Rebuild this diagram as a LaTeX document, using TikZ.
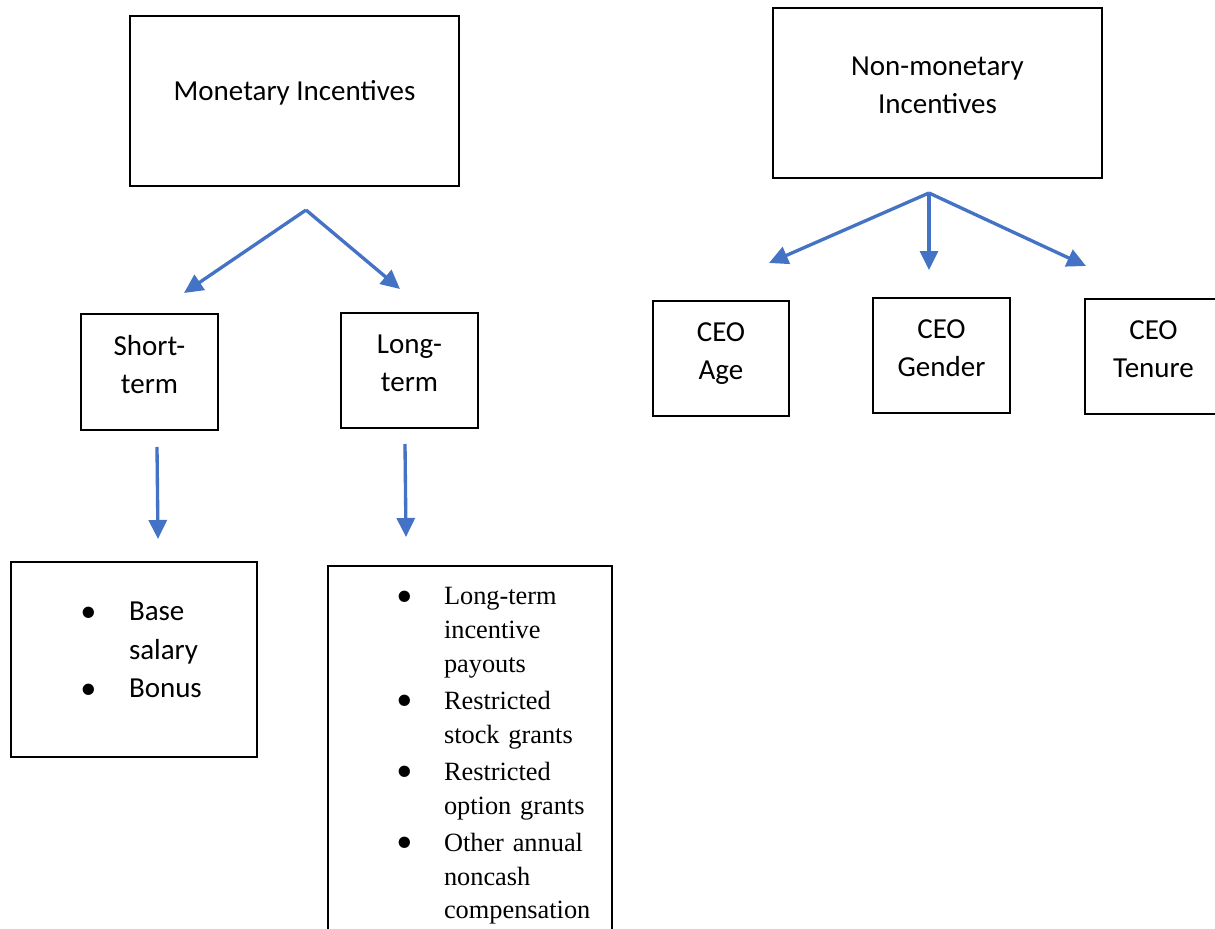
\documentclass[tikz,border=0pt]{standalone}
\usepackage{fontspec}
\setmainfont{Carlito}
\newfontfamily\timesfont{Liberation Serif}
\usetikzlibrary{arrows.meta}
\definecolor{arrowblue}{RGB}{68,114,196}
\newcommand{\bul}{\raisebox{-4.2pt}{\timesfont\fontsize{27pt}{0pt}\selectfont •}}

\begin{document}
\begin{tikzpicture}
        [
            x = 0.02cm, y = -0.02cm,
            box/.style = {draw, line width = 1.2pt, inner sep = 0pt, align = center,
                    font = {\fontsize{16.5pt}{21.5pt}\selectfont}, text depth = 0.3cm},
            listbox/.style = {draw, line width = 1.2pt, inner xsep = 0pt, align = left},
            link/.style = {draw = arrowblue, line width = 1.9pt,
                    -{Triangle[length = 0.38cm, width = 0.36cm]}},
        ]

        \useasboundingbox (0,0) rectangle (1215,929);

        % top boxes
        \node[box, minimum width = 6.58cm, minimum height = 3.4cm, text depth = 0.42cm] (monetary) at (294.5,101) {Monetary Incentives};
        \node[box, minimum width = 6.58cm, minimum height = 3.4cm] (nonmonetary) at (937.5,93) {Non-monetary\\Incentives};

        % second row
        \node[box, minimum width = 2.74cm, minimum height = 2.32cm] (shortterm) at (149.5,372) {Short-\\term};
        \node[box, minimum width = 2.74cm, minimum height = 2.3cm] (longterm) at (409.5,370.5) {Long-\\term};
        \node[box, minimum width = 2.72cm, minimum height = 2.3cm] (ceoage) at (721,358.5) {CEO\\Age};
        \node[box, minimum width = 2.74cm, minimum height = 2.3cm] (ceogender) at (941.5,355.5) {CEO\\Gender};
        \node[box, minimum width = 2.74cm, minimum height = 2.3cm] (ceotenure) at (1153.5,356.5) {CEO\\Tenure};

        % lists
        \node[listbox, text width = 4.92cm, minimum height = 3.9cm, text depth = 0.55cm,
            font = {\fontsize{16.5pt}{22pt}\selectfont}] (shortlist) at (134,659.5)
            {\hspace*{1.38cm}\begin{tabular}[b]{@{}p{0.98cm}@{}l@{}}
                \bul & Base\\
                     & salary\\
                \bul & Bonus
            \end{tabular}};
        \node[listbox, anchor = north, text width = 5.68cm, inner ysep = 0.3cm,
            font = {\timesfont\fontsize{15pt}{19.3pt}\selectfont}] (longlist) at (470,565)
            {\hspace*{1.36cm}\begin{tabular}[t]{@{}p{0.96cm}@{}l@{}}
                \bul & Long-term\\
                     & incentive\\
                     & payouts\\[1.7pt]
                \bul & Restricted\\
                     & stock grants\\[1.7pt]
                \bul & Restricted\\
                     & option grants\\[1.7pt]
                \bul & Other annual\\
                     & noncash\\
                     & compensation
            \end{tabular}};

        % arrow ends
        \coordinate (monfork) at (306,210);
        \coordinate (shorttip) at (184,293);
        \coordinate (longtip) at (400,289);
        \coordinate (nonfork) at (929,193);
        \coordinate (agetip) at (769,263);
        \coordinate (gendertip) at (929,270);
        \coordinate (tenuretip) at (1086,266);
        \coordinate (shortfrom) at (157,447);
        \coordinate (shortto) at (158,539);
        \coordinate (longfrom) at (405,444);
        \coordinate (longto) at (406,537);

        \draw[link] (monfork) -- (shorttip);
        \draw[link] (monfork) -- (longtip);
        \draw[link] (nonfork) -- (agetip);
        \draw[link] (nonfork) -- (gendertip);
        \draw[link] (nonfork) -- (tenuretip);
        \draw[link] (shortfrom) -- (shortto);
        \draw[link] (longfrom) -- (longto);

    \end{tikzpicture}
\end{document}
